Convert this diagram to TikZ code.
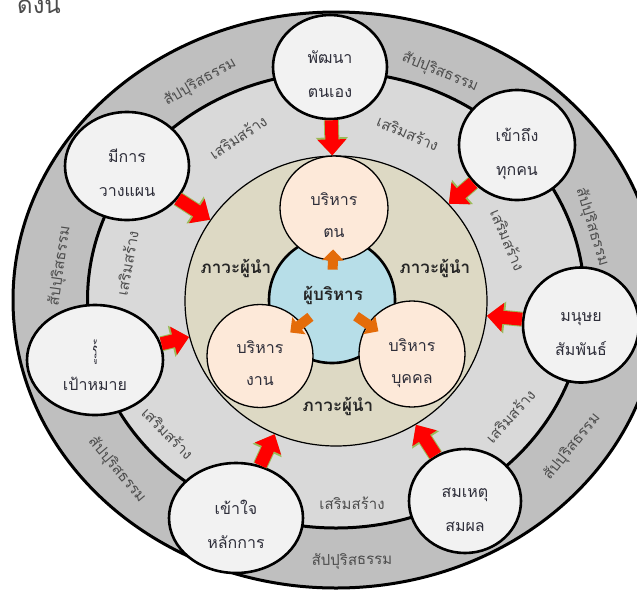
\documentclass[tikz,border=0pt]{standalone}
\usepackage{fontspec}
\newfontfamily\thai[Script=Thai]{Loma}
\usetikzlibrary{shapes.geometric,arrows.meta,calc}
\definecolor{ringdark}{HTML}{BFBFBF}
\definecolor{ringlight}{HTML}{D9D9D9}
\definecolor{tanfill}{HTML}{DDD9C4}
\definecolor{bluefill}{HTML}{B7DEE8}
\definecolor{peachfill}{HTML}{FDE9D9}
\definecolor{whitefill}{HTML}{F2F2F2}
\definecolor{arrowred}{HTML}{FF0000}
\definecolor{arrowedge}{HTML}{9BBB59}
\definecolor{arroworange}{HTML}{E46C0A}
\definecolor{ringtext}{HTML}{4D4D4D}
\definecolor{circtext}{HTML}{2E2E3A}
\tikzset{
  ell/.style={ellipse, draw=black, inner sep=0pt},
  whitecirc/.style={ell, fill=whitefill, line width=2.6pt, text=circtext,
    font=\thai\fontsize{16}{34}\selectfont, align=center, text height=60pt, text depth=0pt},
  peachcirc/.style={ell, fill=peachfill, line width=1.3pt, text=circtext,
    font=\thai\fontsize{16}{32}\selectfont, align=center, text height=58pt, text depth=0pt},
  ringlab/.style={text=ringtext, font=\thai\fontsize{15}{18}\selectfont, inner sep=0pt},
  leadlab/.style={text=black!85, font=\thai\bfseries\fontsize{17}{20}\selectfont, inner sep=0pt},
  redout/.style={draw=arrowedge, line width=15pt, -{Triangle[width=31pt,length=18pt]}},
  redin/.style={draw=arrowred, line width=13pt, -{Triangle[width=28pt,length=16pt]}},
  orangearr/.style={draw=arroworange, line width=10pt, -{Triangle[width=21pt,length=11pt]}},
}
\newcommand\blockarrow[2]{\draw[redout] (#1) -- (#2); \draw[redin] (#1) -- (#2);}
\begin{document}
\begin{tikzpicture}[x=1pt,y=-1pt]
\useasboundingbox (0,0) rectangle (637,595);
\clip (0,0) rectangle (637,595);
% top-left clipped text
\node[anchor=base west, inner sep=0pt, font=\thai\fontsize{24}{28}\selectfont, text=black!70] (head) at (17,13) {ดังนี้};
% rings
\node[ell, fill=ringdark, line width=3pt, minimum width=646pt, minimum height=576pt] (outer) at (336,300) {};
\node[ell, fill=ringlight, line width=3pt, minimum width=497pt, minimum height=456pt] (middle) at (336,300) {};
\node[ell, fill=tanfill, line width=1.2pt, minimum width=302pt, minimum height=290pt] (tan) at (336,301) {};
% ring labels: outer ring
\node[ringlab, rotate=30] (s1) at (200,82) {สัปปุริสธรรม};
\node[ringlab, rotate=-22] (s2) at (440,72) {สัปปุริสธรรม};
\node[ringlab, rotate=-73] (s3) at (592,227) {สัปปุริสธรรม};
\node[ringlab, rotate=51] (s4) at (572,447) {สัปปุริสธรรม};
\node[ringlab, rotate=1] (s5) at (352,561) {สัปปุริสธรรม};
\node[ringlab, rotate=-50] (s6) at (117,470) {สัปปุริสธรรม};
\node[ringlab, rotate=82] (s7) at (60,266) {สัปปุริสธรรม};
% ring labels: inner ring
\node[ringlab, rotate=34] (e1) at (238,137) {เสริมสร้าง};
\node[ringlab, rotate=-23] (e2) at (408,133) {เสริมสร้าง};
\node[ringlab, rotate=-67] (e3) at (508,240) {เสริมสร้าง};
\node[ringlab, rotate=48] (e4) at (510,416) {เสริมสร้าง};
\node[ringlab] (e5) at (352,503) {เสริมสร้าง};
\node[ringlab, rotate=-45] (e6) at (168,433) {เสริมสร้าง};
\node[ringlab, rotate=80] (e7) at (127,263) {เสริมสร้าง};
% leadership labels
\node[leadlab] (l1) at (236,268) {ภาวะผู้นำ};
\node[leadlab] (l2) at (435,268) {ภาวะผู้นำ};
\node[leadlab] (l3) at (338,406) {ภาวะผู้นำ};
% center
\node[ell, fill=bluefill, line width=2.6pt, minimum width=126pt, minimum height=126pt] (boss) at (332,300) {};
\node[peachcirc, minimum width=108pt, minimum height=104pt] (p1) at (334,208) {บริหาร\\ตน};
\node[peachcirc, minimum width=106pt, minimum height=103pt] (p2) at (260,356) {บริหาร\\งาน};
\node[peachcirc, minimum width=106pt, minimum height=106pt] (p3) at (412,354) {บริหาร\\บุคคล};
\node[leadlab] (bosslab) at (333,295) {ผู้บริหาร};
\draw[orangearr] ($(boss)!0.33!(p1)$) -- ($(boss)!0.55!(p1)$);
\draw[orangearr] ($(boss)!0.30!(p2)$) -- ($(boss)!0.58!(p2)$);
\draw[orangearr] ($(boss)!0.30!(p3)$) -- ($(boss)!0.58!(p3)$);
% outer circles
\node[whitecirc, minimum width=114pt, minimum height=104pt] (w1) at (330,67) {พัฒนา\\ตนเอง};
\node[whitecirc, minimum width=116pt, minimum height=110pt] (w2) at (517,145) {เข้าถึง\\ทุกคน};
\node[whitecirc, minimum width=116pt, minimum height=115pt] (w3) at (581,325) {มนุษย\\สัมพันธ์};
\node[whitecirc, minimum width=112pt, minimum height=104pt] (w4) at (465,501) {สมเหตุ\\สมผล};
\node[whitecirc, minimum width=134pt, minimum height=110pt] (w5) at (236,518) {เข้าใจ\\หลักการ};
\node[whitecirc, minimum width=136pt, minimum height=110pt] (w6) at (95,360) {\raisebox{-2pt}{\scalebox{0.55}[1.4]{รู้}}\\เป้าหมาย};
\node[whitecirc, minimum width=124pt, minimum height=108pt] (w7) at (127,166) {มีการ\\วางแผน};
% red arrows
\blockarrow{w1}{tan}
\blockarrow{w2}{tan}
\blockarrow{w3}{tan}
\blockarrow{w4}{tan}
\blockarrow{w5}{tan}
\blockarrow{w6}{tan}
\blockarrow{w7}{tan}
\end{tikzpicture}
\end{document}
